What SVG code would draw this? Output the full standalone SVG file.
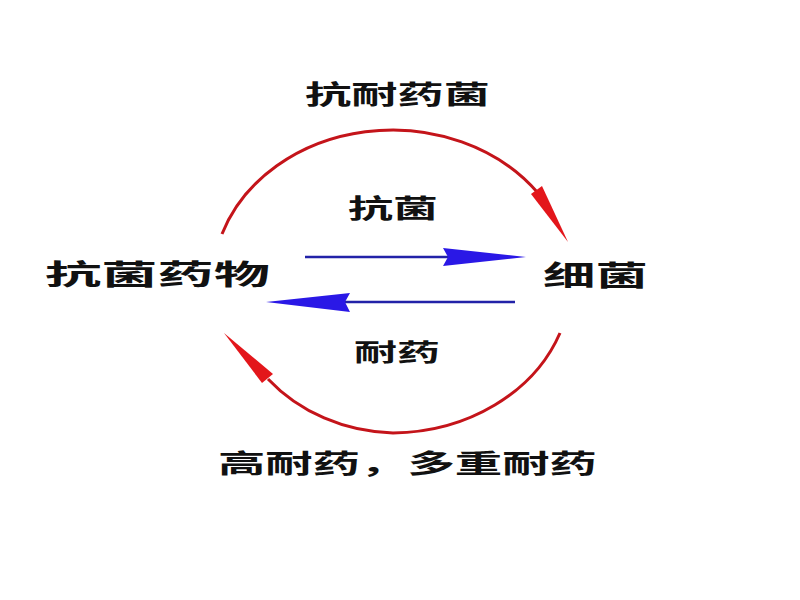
<svg xmlns="http://www.w3.org/2000/svg" width="800" height="600" viewBox="0 0 800 600">
<style>
.t{font-family:"Noto Sans CJK SC","Noto Sans CJK TC",sans-serif;font-weight:700;fill:#111}
.arc{fill:none;stroke:#c4141a;stroke-width:3}
.ah{fill:#e3161b}
.bl{fill:none;stroke:#2222a8;stroke-width:2.5}
.bh{fill:#2a18e6}
</style>
<rect width="800" height="600" fill="#fff"/>
<g id="connectors">
<path class="arc" d="M222,234 A180,153 0 0 1 538,193"/>
<polygon class="ah" points="568,242 542,186 531,194"/>
<path class="arc" d="M560,333 A180,153 0 0 1 393,433 A170,153 0 0 1 268,379"/>
<polygon class="ah" points="224,333 273,374 262,383"/>
<line class="bl" x1="305" y1="257" x2="450" y2="257"/>
<polygon class="bh" points="526,257 443,248 448,257 443,266"/>
<line class="bl" x1="515" y1="302" x2="345" y2="302"/>
<polygon class="bh" points="266,302 350,293 345,302 350,312"/>
</g>
<g id="label-top"><text class="t" x="305" y="104" font-size="26" textLength="185" lengthAdjust="spacingAndGlyphs">抗耐药菌</text></g>
<g id="node-drug"><text class="t" x="45" y="285" font-size="28" textLength="225" lengthAdjust="spacingAndGlyphs">抗菌药物</text></g>
<g id="node-bacteria"><text class="t" x="543" y="286" font-size="28" textLength="105" lengthAdjust="spacingAndGlyphs">细菌</text></g>
<g id="label-kj"><text class="t" x="348" y="218" font-size="26" textLength="90" lengthAdjust="spacingAndGlyphs">抗菌</text></g>
<g id="label-ny"><text class="t" x="354" y="361" font-size="24" textLength="86" lengthAdjust="spacingAndGlyphs">耐药</text></g>
<g id="label-bottom"><text class="t" x="218" y="473" font-size="26" textLength="379" lengthAdjust="spacingAndGlyphs">高耐药，多重耐药</text></g>
</svg>
